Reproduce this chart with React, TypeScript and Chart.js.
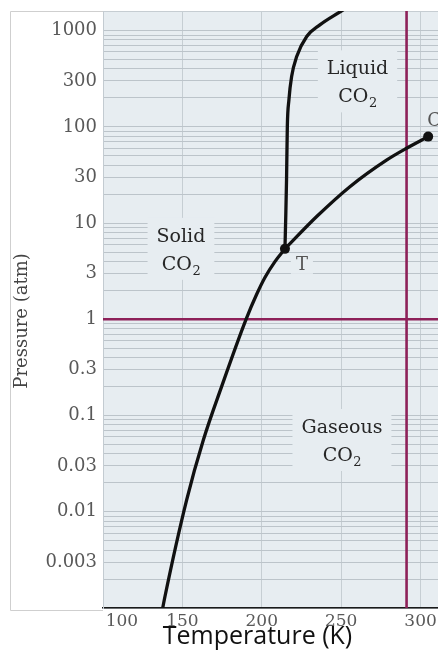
import React, { useEffect, useRef } from 'react';
import { Chart, registerables } from 'chart.js';

Chart.register(...registerables);

// ---------- data ----------
// Solid–gas (sublimation) curve
const sublimationT = [136.5, 139.0, 152.7, 163.2, 174.7, 190.1, 196.8, 202.0, 208.3, 214.6];
const sublimationP = [0.0008, 0.00131, 0.0133, 0.0557, 0.2, 1.0, 1.82, 2.72, 3.98, 5.4];
// Solid–liquid (melting) curve
const meltingT = [214.6, 215.1, 215.6, 216.1, 217.1, 218.8, 222.0, 228.3, 236.6, 250.3, 256.8];
const meltingP = [5.4, 11.5, 28, 100.7, 191, 333, 538, 869, 1148, 1607, 1900];
// Liquid–gas (vapour pressure) curve
const vaporT = [214.6, 234.6, 255.5, 278.8, 291.2, 304.8];
const vaporP = [5.4, 11.7, 23.9, 45.4, 60, 79.2];
// Special points: triple point T and critical point C
const pointNames = ['T', 'C'];
const pointT = [214.6, 304.8];
const pointP = [5.4, 79.2];
// Reference lines
const referencePressure = 1; // atm
const referenceTemperature = 291.2; // K

// Axes
const xMin = 100;
const xMax = 311;
const xTickValues = [100, 150, 200, 250, 300];
const xTickLabels = ['100', '150', '200', '250', '300'];
const yMin = 0.001;
const yMax = 1600;
const yTickLabels = ['0.003', '0.01', '0.03', '0.1', '0.3', '1', '3', '10', '30', '100', '300', '1000'];
const yDecades = [-3, -2, -1, 0, 1, 2, 3];
const ySignificands = [1, 2, 3, 4, 5, 6, 7, 8, 9];

// Region labels (text + anchor in data units)
const regionTexts = [['Liquid', 'CO₂'], ['Solid', 'CO₂'], ['Gaseous', 'CO₂']];
const regionT = [260.3, 149.1, 250.5];
const regionP = [297, 5.4, 0.0557];

// ---------- styles ----------
const PLOT_BG = '#e7edf1';
const CURVE = '#111111';
const PURPLE = '#8d2159';
const TICK_COLOR = '#595959';
const SERIF = '"DejaVu Serif", serif';
const LABEL_FONT = `19px ${SERIF}`;
const SUB_FONT = `13px ${SERIF}`;

const pts = (xs: number[], ys: number[]) => xs.map((x, i) => ({ x, y: ys[i] }));

function drawTextLine(ctx: CanvasRenderingContext2D, text: string, cx: number, baseline: number) {
  const i = text.indexOf('₂');
  if (i < 0) {
    ctx.font = LABEL_FONT;
    const w = ctx.measureText(text).width;
    ctx.fillText(text, cx - w / 2, baseline);
    return;
  }
  const main = text.slice(0, i);
  ctx.font = LABEL_FONT;
  const w1 = ctx.measureText(main).width;
  ctx.font = SUB_FONT;
  const w2 = ctx.measureText('2').width;
  const x0 = cx - (w1 + w2) / 2;
  ctx.font = LABEL_FONT;
  ctx.fillText(main, x0, baseline);
  ctx.font = SUB_FONT;
  ctx.fillText('2', x0 + w1 + 0.5, baseline + 5);
}

function textWidth(ctx: CanvasRenderingContext2D, text: string) {
  const i = text.indexOf('₂');
  ctx.font = LABEL_FONT;
  if (i < 0) return ctx.measureText(text).width;
  const w1 = ctx.measureText(text.slice(0, i)).width;
  ctx.font = SUB_FONT;
  return w1 + ctx.measureText('2').width;
}

const backgroundPlugin = {
  id: 'plotBackground',
  beforeDraw(chart: any) {
    const { ctx, chartArea: a } = chart;
    ctx.save();
    ctx.fillStyle = PLOT_BG;
    ctx.fillRect(a.left, a.top, a.right - a.left, a.bottom - a.top);
    // light frame around the left margin (scan frame)
    ctx.strokeStyle = '#cfcfcf';
    ctx.lineWidth = 1;
    ctx.beginPath();
    ctx.moveTo(a.left, a.top + 0.5);
    ctx.lineTo(10.5, a.top + 0.5);
    ctx.lineTo(10.5, a.bottom + 2.5);
    ctx.lineTo(a.left, a.bottom + 2.5);
    ctx.stroke();
    ctx.strokeStyle = '#c6cdd2';
    ctx.beginPath();
    ctx.moveTo(a.left, a.top + 0.5);
    ctx.lineTo(a.right, a.top + 0.5);
    ctx.stroke();
    ctx.restore();
  },
};

const labelsPlugin = {
  id: 'regionLabels',
  beforeDatasetsDraw(chart: any) {
    const { ctx, scales } = chart;
    const xs = scales.x;
    const ys = scales.y;
    const gap = 28;
    ctx.save();
    ctx.textBaseline = 'alphabetic';
    regionTexts.forEach((lines, k) => {
      const cx = xs.getPixelForValue(regionT[k]);
      const cy = ys.getPixelForValue(regionP[k]);
      const maxW = Math.max(...lines.map((l) => textWidth(ctx, l)));
      const padX = 9;
      const halfH = 31;
      ctx.fillStyle = PLOT_BG;
      ctx.fillRect(cx - maxW / 2 - padX, cy - halfH, maxW + 2 * padX, 2 * halfH);
      ctx.fillStyle = '#262626';
      lines.forEach((l, j) => {
        const lineCenter = cy - ((lines.length - 1) * gap) / 2 + j * gap;
        drawTextLine(ctx, l, cx, lineCenter + 7);
      });
    });
    // point labels T and C
    pointNames.forEach((name, k) => {
      const px = xs.getPixelForValue(pointT[k]);
      const py = ys.getPixelForValue(pointP[k]);
      ctx.font = `18px ${SERIF}`;
      const w = ctx.measureText(name).width;
      let lx: number, ly: number;
      if (k === 0) {
        lx = px + 17;
        ly = py + 15;
        ctx.fillStyle = PLOT_BG;
        ctx.fillRect(lx - w / 2 - 5, ly - 10, w + 10, 20);
      } else {
        lx = px + 6;
        ly = py - 17;
      }
      ctx.fillStyle = '#555555';
      ctx.fillText(name, lx - w / 2, ly + 6.5);
    });
    ctx.restore();
  },
};

export default function App() {
  const canvasRef = useRef<HTMLCanvasElement | null>(null);

  useEffect(() => {
    const canvas = canvasRef.current;
    if (!canvas) return;
    const yGridValues: number[] = [];
    yDecades.forEach((d) =>
      ySignificands.forEach((s) => {
        const v = Number(`${s}e${d}`);
        if (v >= yMin && v <= yMax) yGridValues.push(v);
      })
    );
    const curve = (xs: number[], ys: number[]) => ({
      data: pts(xs, ys),
      showLine: true,
      borderColor: CURVE,
      borderWidth: 3.3,
      pointRadius: 0,
      cubicInterpolationMode: 'monotone',
      borderCapStyle: 'round',
      borderJoinStyle: 'round',
      order: 0,
    });
    const chart = new Chart(canvas, {
      type: 'scatter',
      data: {
        datasets: [
          curve(sublimationT, sublimationP),
          curve(meltingT, meltingP),
          curve(vaporT, vaporP),
          {
            data: pts(pointT, pointP),
            showLine: false,
            pointRadius: 5,
            pointBackgroundColor: CURVE,
            pointBorderWidth: 0,
            order: 0,
          },
          {
            data: [
              { x: xMin, y: referencePressure },
              { x: xMax, y: referencePressure },
            ],
            showLine: true,
            borderColor: PURPLE,
            borderWidth: 2.6,
            pointRadius: 0,
            order: 1,
          },
          {
            data: [
              { x: referenceTemperature, y: yMin },
              { x: referenceTemperature, y: yMax },
            ],
            showLine: true,
            borderColor: PURPLE,
            borderWidth: 2.6,
            pointRadius: 0,
            order: 1,
          },
        ],
      },
      options: {
        animation: false,
        responsive: false,
        devicePixelRatio: 1,
        events: [],
        layout: { autoPadding: false, padding: { top: 11, right: 0, left: 0, bottom: 0 } },
        plugins: { legend: { display: false }, tooltip: { enabled: false } },
        scales: {
          x: {
            type: 'linear',
            min: xMin,
            max: xMax,
            afterBuildTicks: (s: any) => {
              s.ticks = xTickValues.map((v) => ({ value: v }));
            },
            afterFit: (s: any) => {
              s.height = 59;
              s.paddingLeft = 0;
              s.paddingRight = 0;
            },
            ticks: {
              autoSkip: false,
              maxRotation: 0,
              minRotation: 0,
              padding: 3,
              color: TICK_COLOR,
              font: { family: 'DejaVu Serif', size: 17 },
              callback: (v: any) => {
                const i = xTickValues.indexOf(Number(v));
                if (i < 0) return '';
                return i === 0 ? '       ' + xTickLabels[i] : xTickLabels[i];
              },
            },
            grid: { color: '#c6ced3', lineWidth: 1, drawTicks: false },
            border: { color: '#1a1a1a', width: 1.6 },
            title: {
              display: true,
              text: 'Temperature (K)    ',
              color: '#111111',
              font: { family: 'Open Sans', size: 25 },
              padding: { top: 0, bottom: 15 },
            },
          },
          y: {
            type: 'logarithmic',
            min: yMin,
            max: yMax,
            afterBuildTicks: (s: any) => {
              s.ticks = yGridValues.map((v) => ({ value: v }));
            },
            afterFit: (s: any) => {
              s.width = 103;
              s.paddingTop = 0;
              s.paddingBottom = 0;
            },
            ticks: {
              autoSkip: false,
              padding: 6,
              color: TICK_COLOR,
              font: { family: 'DejaVu Serif', size: 18 },
              callback: (v: any) => {
                const val = Number(v);
                const lbl = yTickLabels.find((t) => Math.abs(Math.log10(parseFloat(t)) - Math.log10(val)) < 1e-6);
                return lbl ?? '';
              },
            },
            grid: { color: '#bcc4ca', lineWidth: 1, drawTicks: false },
            border: { color: '#c3cbd1', width: 1 },
            title: {
              display: true,
              text: 'Pressure (atm)    ',
              color: '#444444',
              font: { family: 'DejaVu Serif', size: 18 },
              padding: { top: 12, bottom: 0 },
            },
          },
        },
      },
      plugins: [backgroundPlugin, labelsPlugin],
    } as any);
    return () => chart.destroy();
  }, []);

  return (
    <div style={{ position: 'fixed', left: 0, top: 0, width: 438, height: 667, background: '#ffffff' }}>
      <canvas ref={canvasRef} width={438} height={667} style={{ display: 'block' }} />
    </div>
  );
}
